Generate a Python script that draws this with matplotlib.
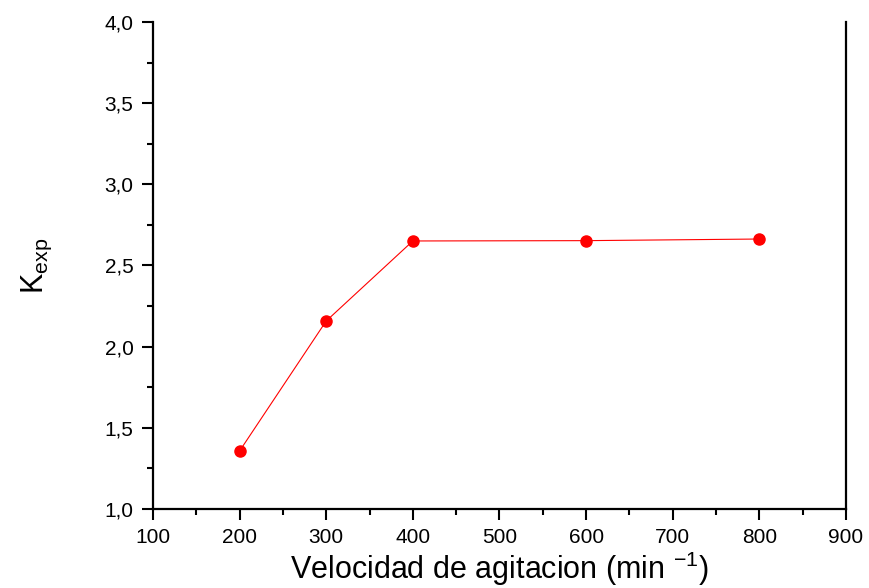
import matplotlib
matplotlib.use("Agg")
import matplotlib.pyplot as plt
from matplotlib.ticker import MultipleLocator, FuncFormatter

plt.rcParams['font.family'] = ['Liberation Sans', 'DejaVu Sans']
plt.rcParams['mathtext.fontset'] = 'custom'
plt.rcParams['mathtext.rm'] = 'Liberation Sans'

velocidad = [200, 300, 400, 600, 800]
kexp = [1.357, 2.158, 2.651, 2.653, 2.663]

fig = plt.figure(figsize=(8.69, 5.88), dpi=100)
ax = fig.add_axes([0.176, 0.1344, 0.7975, 0.8282])

ax.plot(velocidad, kexp, color='red', lw=0.8, marker='o', markersize=8,
        markeredgecolor='red', markerfacecolor='red', zorder=3)

ax.set_xlim(100, 900)
ax.set_ylim(1.0, 4.0)
ax.xaxis.set_major_locator(MultipleLocator(100))
ax.xaxis.set_minor_locator(MultipleLocator(50))
ax.yaxis.set_major_locator(MultipleLocator(0.5))
ax.yaxis.set_minor_locator(MultipleLocator(0.25))
ax.yaxis.set_major_formatter(FuncFormatter(lambda v, p: f"{v:.1f}".replace('.', ',')))

ax.spines['top'].set_visible(False)
for s in ['left', 'bottom', 'right']:
    ax.spines[s].set_linewidth(1.6)
ax.tick_params(which='both', direction='out', top=False, right=False, width=1.5, labelsize=15)
ax.tick_params(which='major', length=8, pad=6)
ax.tick_params(which='minor', length=4)

ax.set_xlabel('Velocidad de agitacion (min $^{\\mathregular{-1}}$)', fontsize=22, labelpad=2)
ax.set_ylabel('K$_{\\mathregular{exp}}$', fontsize=22, labelpad=36)

fig.savefig('out.png', dpi=100)
